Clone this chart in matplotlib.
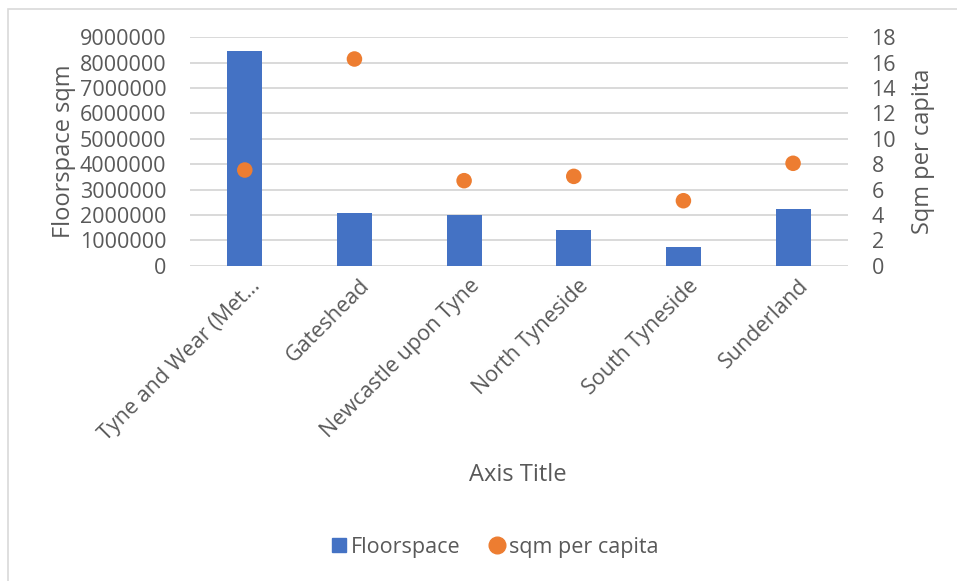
import matplotlib.pyplot as plt
import matplotlib.transforms as mtransforms
import numpy as np
from matplotlib.lines import Line2D
from matplotlib.patches import Rectangle

areas = ['Tyne and Wear (Met\u2026', 'Gateshead', 'Newcastle upon Tyne',
         'North Tyneside', 'South Tyneside', 'Sunderland']
floorspace = [8470000, 2060000, 1990000, 1420000, 750000, 2250000]
sqm_per_capita = [7.54, 16.29, 6.70, 7.04, 5.12, 8.07]
left_ticks = [0, 1000000, 2000000, 3000000, 4000000, 5000000, 6000000,
              7000000, 8000000, 9000000]
right_ticks = [0, 2, 4, 6, 8, 10, 12, 14, 16, 18]

bar_color = '#4472C4'
dot_color = '#ED7D31'
text_color = '#595959'
grid_color = '#D9D9D9'

plt.rcParams['font.family'] = ['Open Sans', 'DejaVu Sans']
fs = 15.5

fig = plt.figure(figsize=(9.57, 5.81), dpi=100)
ax = fig.add_axes([0.1985, 0.5427, 0.6875, 0.3931])
ax2 = ax.twinx()

# chart frame
fig.patches.append(Rectangle((8 / 957, -0.1), 1.2, 1 - 9 / 581 + 0.1,
                             transform=fig.transFigure, fill=False,
                             edgecolor='#D9D9D9', lw=1.2))

x = np.arange(len(areas))
ax.bar(x, floorspace, width=0.32, color=bar_color, zorder=3)
ax2.scatter(x, sqm_per_capita, s=125, color=dot_color, zorder=4,
            edgecolors='none')

ax.set_xlim(-0.5, len(areas) - 0.5)
ax.set_ylim(0, 9000000)
ax2.set_ylim(0, 18)
ax.set_yticks(left_ticks)
ax.set_yticklabels([str(v) for v in left_ticks])
ax2.set_yticks(right_ticks)
ax2.set_yticklabels([str(v) for v in right_ticks])

ax.grid(axis='y', color=grid_color, lw=1.4, zorder=0)
for a in (ax, ax2):
  for s in a.spines.values():
    s.set_visible(False)
  a.tick_params(length=0, labelsize=fs, labelcolor=text_color)
ax.tick_params(axis='y', pad=17)
ax2.tick_params(axis='y', pad=17)

ax.set_xticks(x)
ax.set_xticklabels(areas, rotation=45, ha='right', va='center',
                   rotation_mode='anchor')
shift = mtransforms.ScaledTranslation(12 / 100, -12 / 100, fig.dpi_scale_trans)
for lbl in ax.get_xticklabels():
  lbl.set_transform(lbl.get_transform() + shift)

ax.set_ylabel('Floorspace sqm', fontsize=17, color=text_color, labelpad=3)
ax2.set_ylabel('Sqm per capita', fontsize=17, color=text_color, labelpad=11)
fig.text(518 / 957, 1 - 475 / 581, 'Axis Title', fontsize=17,
         color=text_color, ha='center', va='center')

handles = [
    Line2D([], [], marker='s', ls='none', color=bar_color, markersize=10),
    Line2D([], [], marker='o', ls='none', color=dot_color, markersize=12)
]
fig.legend(handles, ['Floorspace', 'sqm per capita'], loc='center',
           bbox_to_anchor=(493 / 957, 1 - 547 / 581), ncol=2, frameon=False,
           fontsize=fs, labelcolor=text_color, handletextpad=0.05,
           columnspacing=1.2, handlelength=1)

fig.savefig('out.png', dpi=100)
